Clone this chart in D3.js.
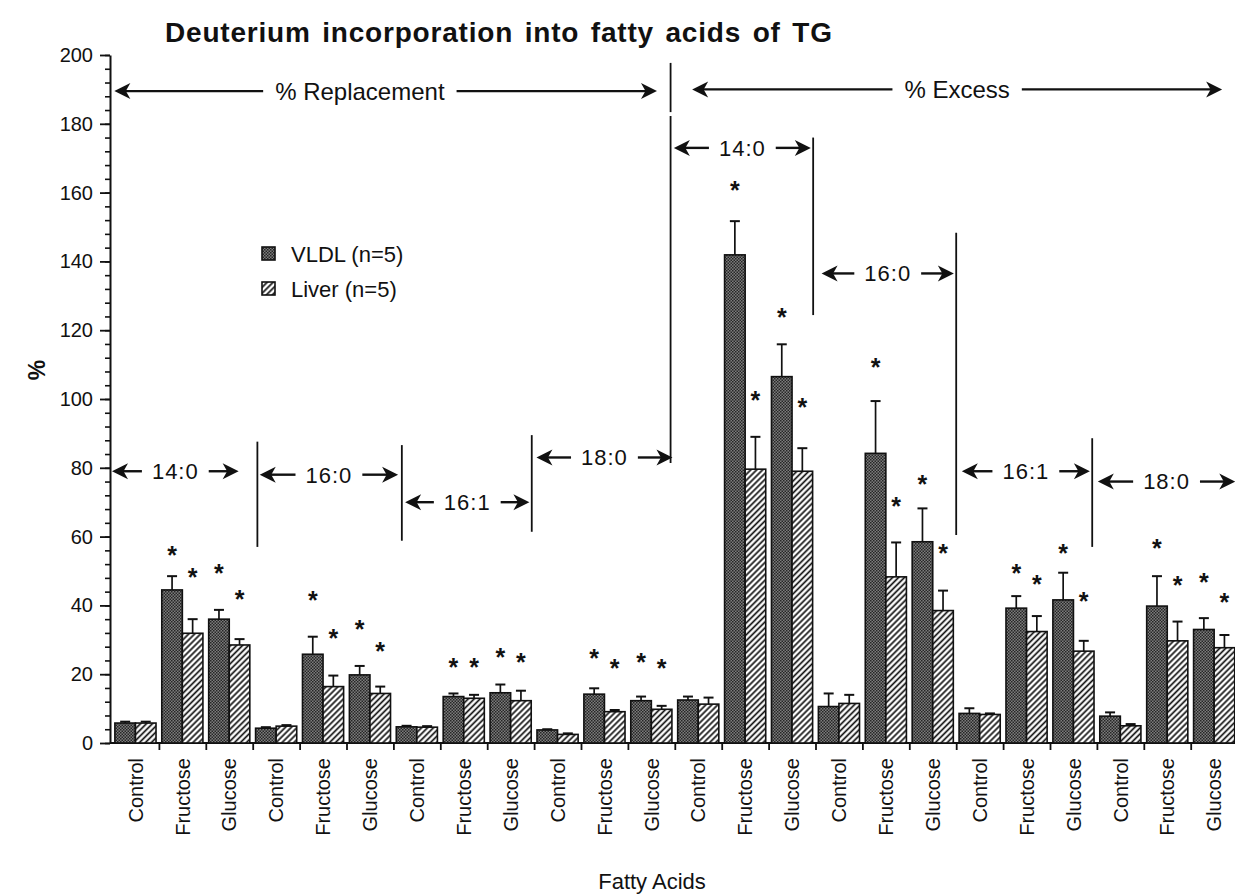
<!DOCTYPE html>
<html>
<head>
<meta charset="utf-8">
<script src="https://cdn.jsdelivr.net/npm/d3@7/dist/d3.min.js"></script>
<style>
  body { margin: 0; background: #fff; }
  text { font-family: "Liberation Sans", Arial, Helvetica, sans-serif; fill: #111; }
</style>
</head>
<body>
<div id="chart"></div>
<script>
// ---- data ----
let acids = ["14:0", "16:0", "16:1", "18:0", "14:0", "16:0", "16:1", "18:0"];
let treatments = ["Control", "Fructose", "Glucose"];
let seriesNames = ["VLDL (n=5)", "Liver (n=5)"];

// means, one per acid x treatment (first four acids % replacement, last four % excess)
let vldlMean = [5.8, 44.5, 36.0, 4.3, 25.8, 19.8, 4.7, 13.5, 14.6, 3.8, 14.2, 12.3,
                12.5, 141.9, 106.5, 10.6, 84.2, 58.5, 8.6, 39.2, 41.6, 7.8, 39.8, 33.0];
let vldlSE   = [0.4, 4.0, 2.7, 0.3, 5.1, 2.6, 0.3, 0.9, 2.4, 0.2, 1.7, 1.2,
                1.0, 9.8, 9.4, 3.8, 15.2, 9.7, 1.5, 3.5, 7.9, 1.1, 8.7, 3.3];
let liverMean = [5.8, 31.9, 28.5, 4.9, 16.4, 14.4, 4.6, 13.0, 12.3, 2.5, 9.1, 9.8,
                 11.3, 79.6, 79.0, 11.5, 48.3, 38.5, 8.3, 32.4, 26.7, 5.0, 29.7, 27.7];
let liverSE   = [0.4, 4.1, 1.7, 0.3, 3.2, 2.0, 0.3, 1.0, 2.9, 0.3, 0.5, 1.0,
                 1.9, 9.4, 6.7, 2.5, 10.0, 5.8, 0.3, 4.5, 3.0, 0.5, 5.6, 3.7];
// height of the significance asterisks (null = none)
let vldlStar  = [null, 56.7, 51.5, null, 43.7, 35.3, null, 24.3, 27.2, null, 27.0, 25.6,
                 null, 162.8, 125.9, null, 111.6, 77.4, null, 51.7, 57.4, null, 58.8, 49.1];
let liverStar = [null, 50.3, 44.0, null, 32.8, 29.0, null, 24.3, 25.6, null, 23.9, 23.9,
                 null, 102.0, 99.9, null, 71.1, 57.3, null, 48.5, 43.5, null, 48.1, 43.3];
let yTicks = [0, 20, 40, 60, 80, 100, 120, 140, 160, 180, 200];

// ---- layout ----
let svgWidth = 1235, svgHeight = 896;
let axisX = 110, plotLeft = 112, step = 46.9, baseY = 743, topY = 55;

let svg = d3.select("#chart").append("svg")
  .attr("width", svgWidth)
  .attr("height", svgHeight);

let groups = d3.range(acids.length * treatments.length);
let x = d3.scaleBand().domain(groups).range([plotLeft, plotLeft + groups.length * step]);
let xb = d3.scaleLinear().domain([0, groups.length]).range([plotLeft, plotLeft + groups.length * step]);
let xIn = d3.scaleBand().domain([0, 1]).range([0, x.bandwidth()]).paddingOuter(0.14);
let y = d3.scaleLinear().domain([0, 200]).range([baseY, topY]);

// fills
let defs = svg.append("defs");
let stip = defs.append("pattern").attr("id", "stipple")
  .attr("patternUnits", "userSpaceOnUse").attr("width", 3).attr("height", 3);
stip.append("rect").attr("width", 3).attr("height", 3).attr("fill", "#7c7c7c");
stip.append("rect").attr("width", 1.5).attr("height", 1.5).attr("fill", "#262626");
stip.append("rect").attr("x", 1.5).attr("y", 1.5).attr("width", 1.5).attr("height", 1.5).attr("fill", "#262626");

let hatch = defs.append("pattern").attr("id", "hatch")
  .attr("patternUnits", "userSpaceOnUse").attr("width", 4.2).attr("height", 4.2)
  .attr("patternTransform", "rotate(45)");
hatch.append("rect").attr("width", 4.2).attr("height", 4.2).attr("fill", "#fff");
hatch.append("line").attr("x1", 2.1).attr("y1", 0).attr("x2", 2.1).attr("y2", 4.2)
  .attr("stroke", "#111").attr("stroke-width", 1.7);

let fills = ["url(#stipple)", "url(#hatch)"];

// title
svg.append("text")
  .attr("x", 165).attr("y", 42)
  .attr("font-size", 28).attr("font-weight", "bold")
  .attr("letter-spacing", 0.8).attr("word-spacing", 3)
  .text("Deuterium incorporation into fatty acids of TG");

// y axis: minor then major ticks
svg.append("g")
  .attr("transform", `translate(${axisX},0)`)
  .call(d3.axisLeft(y).tickValues(d3.range(0, 201, 4)).tickSize(5).tickSizeOuter(0).tickFormat(""))
  .call(g => g.select(".domain").remove())
  .selectAll("line").attr("stroke", "#111").attr("stroke-width", 1.6);

let yAxis = svg.append("g")
  .attr("transform", `translate(${axisX},0)`)
  .call(d3.axisLeft(y).tickValues(yTicks).tickSize(10).tickSizeOuter(0).tickPadding(7));
yAxis.select(".domain").attr("stroke", "#111").attr("stroke-width", 2);
yAxis.selectAll(".tick line").attr("stroke", "#111").attr("stroke-width", 1.8);
yAxis.selectAll("text").attr("font-size", 20).attr("font-family", "Liberation Sans, Arial, sans-serif").attr("fill", "#111");

svg.append("text")
  .attr("transform", `translate(45, 370) rotate(-90)`)
  .attr("text-anchor", "middle")
  .attr("font-size", 23).attr("font-weight", "bold")
  .text("%");

// x axis
let xAxis = svg.append("g")
  .attr("transform", `translate(0, ${baseY})`)
  .call(d3.axisBottom(xb).tickValues(d3.range(1, groups.length)).tickSize(7).tickSizeOuter(0).tickFormat(""));
xAxis.select(".domain").attr("d", `M${axisX},0H${svgWidth}`).attr("stroke", "#111").attr("stroke-width", 2);
xAxis.selectAll(".tick line").attr("stroke", "#111").attr("stroke-width", 1.8);

svg.append("g")
  .selectAll("text")
  .data(groups)
  .join("text")
  .attr("transform", d => `translate(${x(d) + x.bandwidth() / 2}, ${baseY + 15}) rotate(-90)`)
  .attr("text-anchor", "end")
  .attr("dy", "0.36em")
  .attr("font-size", 20)
  .text(d => treatments[d % 3]);

svg.append("text")
  .attr("x", 652).attr("y", 889)
  .attr("text-anchor", "middle")
  .attr("font-size", 22)
  .text("Fatty Acids");

// bars
let series = [
  { mean: vldlMean, se: vldlSE, star: vldlStar },
  { mean: liverMean, se: liverSE, star: liverStar }
];

series.forEach((s, k) => {
  let g = svg.append("g");
  let cx = d => x(d) + xIn(k) + xIn.bandwidth() / 2;

  g.selectAll("rect")
    .data(groups)
    .join("rect")
    .attr("x", d => x(d) + xIn(k))
    .attr("y", d => y(s.mean[d]))
    .attr("width", xIn.bandwidth())
    .attr("height", d => y(0) - y(s.mean[d]))
    .attr("fill", fills[k])
    .attr("stroke", "#111")
    .attr("stroke-width", 1.6);

  g.selectAll("line.err")
    .data(groups)
    .join("line")
    .attr("class", "err")
    .attr("x1", cx).attr("x2", cx)
    .attr("y1", d => y(s.mean[d]))
    .attr("y2", d => y(s.mean[d] + s.se[d]))
    .attr("stroke", "#111").attr("stroke-width", 1.7);

  g.selectAll("line.cap")
    .data(groups)
    .join("line")
    .attr("class", "cap")
    .attr("x1", d => cx(d) - 5).attr("x2", d => cx(d) + 5)
    .attr("y1", d => y(s.mean[d] + s.se[d]))
    .attr("y2", d => y(s.mean[d] + s.se[d]))
    .attr("stroke", "#111").attr("stroke-width", 2);

  g.selectAll("text.star")
    .data(groups.filter(d => s.star[d] != null))
    .join("text")
    .attr("class", "star")
    .attr("x", cx)
    .attr("y", d => y(s.star[d]))
    .attr("dy", "0.66em")
    .attr("text-anchor", "middle")
    .attr("font-size", 25).attr("font-weight", "bold")
    .text("*");
});

// legend
let legend = svg.append("g");
seriesNames.forEach((name, k) => {
  legend.append("rect")
    .attr("x", 262).attr("y", 247 + k * 35)
    .attr("width", 13).attr("height", 13)
    .attr("fill", fills[k]).attr("stroke", "#111").attr("stroke-width", 1.6);
  legend.append("text")
    .attr("x", 291).attr("y", 262 + k * 35)
    .attr("font-size", 22)
    .text(name);
});

// brackets: section dividers and "<- label ->" spans (positions in group units / % units)
let dividers = [
  { at: 3.1, from: 57, to: 87.6 },
  { at: 6.18, from: 58.8, to: 86.6 },
  { at: 8.95, from: 61.4, to: 89.5 },
  { at: 11.91, from: 81.4, to: 182.3 },
  { at: 11.91, from: 183.4, to: 197.7 },
  { at: 14.95, from: 124.4, to: 176 },
  { at: 18.0, from: 60.5, to: 148.3 },
  { at: 20.9, from: 57, to: 88.6 }
];
let spans = [
  { label: "14:0", from: 0.0, to: 2.7, level: 79, size: 22 },
  { label: "16:0", from: 3.15, to: 6.1, level: 78, size: 22 },
  { label: "16:1", from: 6.25, to: 8.9, level: 70, size: 22 },
  { label: "18:0", from: 9.05, to: 11.95, level: 83, size: 22 },
  { label: "14:0", from: 11.98, to: 14.9, level: 173, size: 22 },
  { label: "16:0", from: 15.13, to: 17.95, level: 136.5, size: 22 },
  { label: "16:1", from: 18.12, to: 20.85, level: 79, size: 22 },
  { label: "18:0", from: 21.02, to: 23.95, level: 76, size: 22 },
  { label: "% Replacement", from: 0.05, to: 11.62, level: 189.5, size: 24, shift: -0.55 },
  { label: "% Excess", from: 12.37, to: 23.67, level: 190, size: 24, shift: 0 }
];

let ann = svg.append("g");
ann.selectAll("line.div")
  .data(dividers)
  .join("line")
  .attr("class", "div")
  .attr("x1", d => xb(d.at)).attr("x2", d => xb(d.at))
  .attr("y1", d => y(d.from)).attr("y2", d => y(d.to))
  .attr("stroke", "#111").attr("stroke-width", 1.8);

let head = "M0,0L16,-8L11.5,0L16,8Z";
spans.forEach(s => {
  let x0 = xb(s.from), x1 = xb(s.to), yy = y(s.level);
  let mid = (x0 + x1) / 2 + (s.shift || 0) * step;
  let t = ann.append("text")
    .attr("x", mid).attr("y", yy)
    .attr("dy", "0.36em")
    .attr("text-anchor", "middle")
    .attr("font-size", s.size)
    .attr("letter-spacing", s.label.length < 6 ? 1 : 0)
    .text(s.label);
  let w = t.node().getComputedTextLength();
  let gap = s.label.length < 6 ? 10 : 12;
  ann.append("line")
    .attr("x1", x0 + 6).attr("x2", mid - w / 2 - gap)
    .attr("y1", yy).attr("y2", yy)
    .attr("stroke", "#111").attr("stroke-width", 2.4);
  ann.append("line")
    .attr("x1", mid + w / 2 + gap).attr("x2", x1 - 6)
    .attr("y1", yy).attr("y2", yy)
    .attr("stroke", "#111").attr("stroke-width", 2.4);
  ann.append("path").attr("d", head)
    .attr("transform", `translate(${x0},${yy})`).attr("fill", "#111");
  ann.append("path").attr("d", head)
    .attr("transform", `translate(${x1},${yy}) scale(-1,1)`).attr("fill", "#111");
});
</script>
</body>
</html>
